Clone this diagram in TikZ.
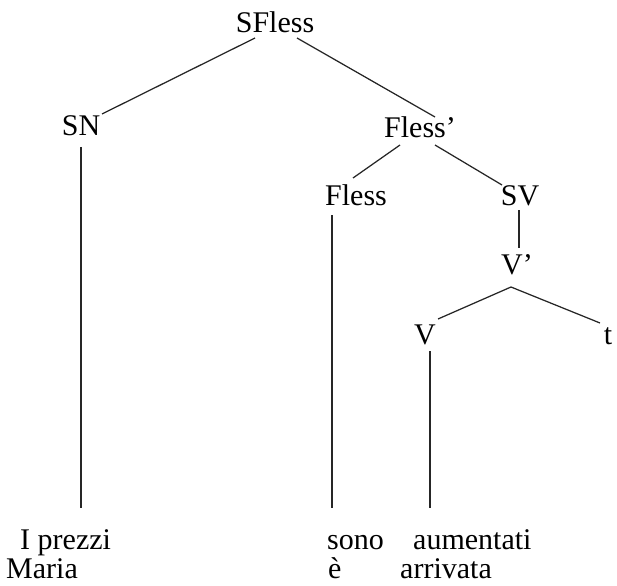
\documentclass[tikz,border=0pt]{standalone}
\usepackage{fontspec}
\setmainfont{Liberation Serif}
\usetikzlibrary{calc}
\begin{document}
\begin{tikzpicture}[x=1pt,y=-1pt,
  lab/.style={anchor=base,inner sep=0pt,font=\fontsize{30}{30}\selectfont,text height=20pt,text depth=0pt},
  word/.style={anchor=base west,inner sep=0pt,font=\fontsize{30}{30}\selectfont,text depth=0pt},
  edge/.style={draw=black!85,line width=1.25pt}]
\useasboundingbox (0,0) rectangle (617,585);
% labels
\node[lab] (SFless) at (275,33) {SFless};
\node[lab] (SN) at (81,136) {SN};
\node[lab] (Flessp) at (420,138) {Fless’};
\node[lab] (Fless) at (356,205) {Fless};
\node[lab] (SV) at (520,205) {SV};
\node[lab] (Vp) at (517,274) {V’};
\node[lab] (V) at (425,344) {V};
\node[lab] (t) at (608,344) {t};
% words
\node[word] (prezzi) at (20,549) {I prezzi};
\node[word] (maria) at (6,578) {Maria};
\node[word] (sono) at (327,549) {sono};
\node[word] (aumentati) at (413,549) {aumentati};
\node[word] (e) at (328,578) {è};
\node[word] (arrivata) at (400,578) {arrivata};
% connectors
\draw[edge] ($(SFless.base)+(-20,5)$) -- ($(SN.base)+(21,-22)$);
\draw[edge] ($(SFless.base)+(22,5)$) -- ($(Flessp.base)+(15,-21)$);
\draw[edge] ($(SN.base)+(0,11)$) -- ($(prezzi.base west)+(61,-41)$);
\draw[edge] ($(Flessp.base)+(-20,7)$) -- ($(Fless.base)+(-3,-27)$);
\draw[edge] ($(Flessp.base)+(15,7)$) -- ($(SV.base)+(-18,-20)$);
\draw[edge] ($(Fless.base)+(-24,10)$) -- ($(sono.base west)+(5,-41)$);
\draw[edge] ($(SV.base)+(-1,5)$) -- ($(Vp.base)+(2,-26)$);
\draw[edge] ($(Vp.base)+(-6,13)$) -- ($(V.base)+(13,-25)$);
\draw[edge] ($(Vp.base)+(-6,13)$) -- ($(t.base)+(-8,-21)$);
\draw[edge] ($(V.base)+(5,7)$) -- ($(aumentati.base west)+(17,-41)$);
\end{tikzpicture}
\end{document}
